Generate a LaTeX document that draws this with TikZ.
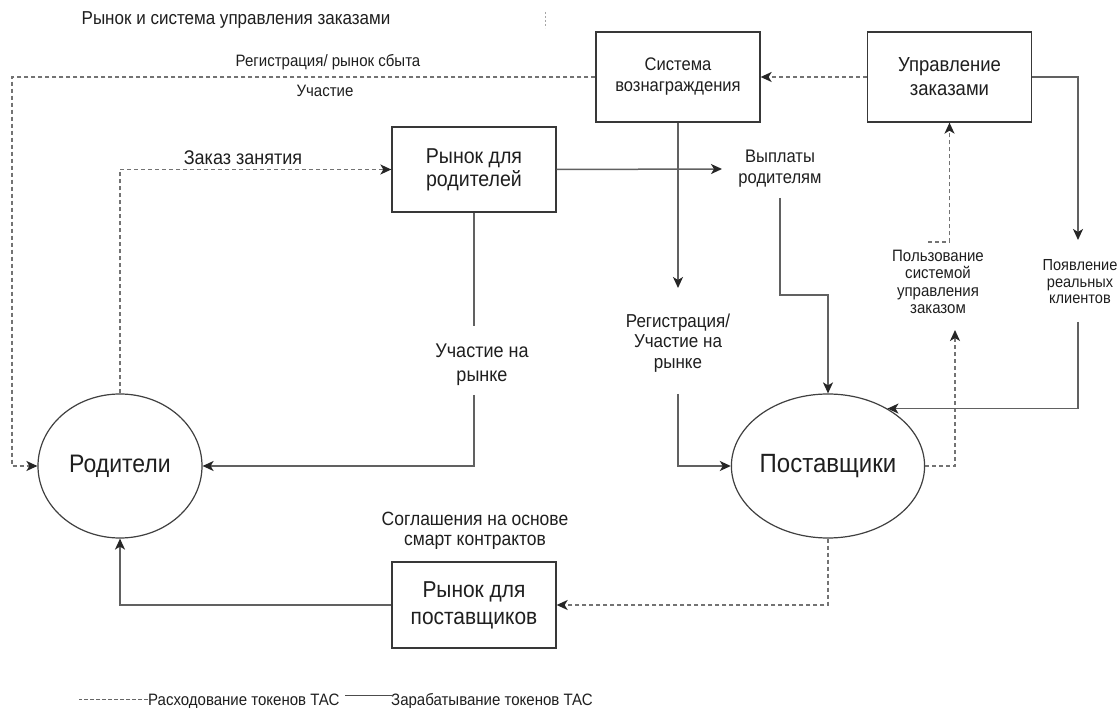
\documentclass[tikz,border=0pt]{standalone}
\usepackage{fontspec}
\setmainfont{Liberation Sans}[FakeStretch=0.91]
\usetikzlibrary{shapes.geometric,arrows.meta,calc}
\newcommand\myfs[2]{\fontsize{#1}{#2}\selectfont}
\begin{document}
\begin{tikzpicture}[x=1pt,y=-1pt,
  every node/.style={text=black!88, align=center, inner sep=0pt},
  box/.style={draw=black!78, line width=1.3pt, minimum width=164pt, minimum height=86pt},
  oval/.style={ellipse, draw=black!75, line width=1.2pt, minimum width=164pt, minimum height=144pt},
  sline/.style={draw=black!62, line width=1.5pt},
  dline/.style={draw=black!55, line width=1.5pt, dash pattern=on 4pt off 3pt},
  arr/.style={-{Stealth[length=11pt,width=10pt,inset=3pt,black!85]}}
]
\fill[white] (0,0) rectangle (1120,708);
\useasboundingbox (0,0) rectangle (1120,708);

% title and mark
\node[font=\myfs{18.7}{22}] (title) at (236,20) {Рынок и система управления заказами};
\draw[black!35, line width=0.6pt, dash pattern=on 2pt off 2pt] (545,12) -- (545,28);

% boxes
\node[box, minimum height=90pt, font=\myfs{18.2}{21}] (sys) at (678,77) {Система\\вознаграждения};
\node[box, minimum height=90pt, font=\myfs{20.3}{24}] (upr) at (949.5,77) {Управление\\заказами};
\node[box, minimum height=85pt, font=\myfs{21.5}{23}] (rpar) at (474,169.5) {Рынок для\\родителей};
\node[box, minimum height=86pt, font=\myfs{23}{27}] (rpst) at (474,605) {Рынок для\\поставщиков};

% ovals
\node[oval, font=\myfs{25.3}{28}] (par) at (120,466) {Родители};
\node[oval, font=\myfs{26.4}{29}] (pst) at (828,466) {Поставщики};

% labels
\node[font=\myfs{16.5}{18}] (lreg1) at (328,62) {Регистрация/ рынок сбыта};
\node[font=\myfs{16.5}{18}] (lpart) at (325,91) {Участие};
\node[font=\myfs{19.8}{21}] (lorder) at (243,158) {Заказ занятия};
\node[font=\myfs{18.2}{21}] (lpay) at (780,168.5) {Выплаты\\родителям};
\node[font=\myfs{16.5}{17.5}] (luse) at (938,282) {Пользование\\системой\\управления\\заказом};
\node[font=\myfs{16}{16.5}] (lnew) at (1080,282) {Появление\\реальных\\клиентов};
\node[font=\myfs{19.8}{24}] (lmk) at (482,365) {Участие на\\рынке};
\node[font=\myfs{18.7}{20.5}] (lreg2) at (678,343) {Регистрация/\\Участие на\\рынке};
\node[font=\myfs{19.2}{20.5}] (lsmart) at (475,531) {Соглашения на основе\\смарт контрактов};

% helper coordinates at label gaps
\coordinate (lft) at (12,466);
\coordinate (mk1) at (474,326);
\coordinate (mk2) at (474,395);
\coordinate (rg1) at (678,288);
\coordinate (rg2) at (678,394);
\coordinate (py1) at (722,169);
\coordinate (py2) at (780,198);
\coordinate (py3) at (828,295);
\coordinate (nw1) at (1078,240);
\coordinate (nw2) at (1078,322);
\coordinate (us1) at (955,330);
\coordinate (us2) at (928,242);

% dashed connectors
\draw[dline, arr] (sys.west) -| (lft) -- (par.west);
\draw[dline, arr] (par.north) |- (rpar.west);
\draw[dline, arr] (upr.west) -- (sys.east);
\draw[dline, arr] (pst.east) -| (us1);
\draw[dline, arr] (us2) -| (upr.south);
\draw[dline, arr] (pst.south) |- (rpst.east);

% solid connectors
\draw[sline, arr] (rpar.east) -- (py1);
\draw[sline, arr] (py2) |- (py3) -- (pst.north);
\draw[sline, arr] (sys.south) -- (rg1);
\draw[sline, arr] (rg2) |- (pst.west);
\draw[sline] (rpar.south) -- (mk1);
\draw[sline, arr] (mk2) |- (par.east);
\draw[sline, arr] (upr.east) -| (nw1);
\draw[sline, arr] (nw2) |- (pst.44);
\draw[sline, arr] (rpst.west) -| (par.south);

% legend
\node[anchor=west, font=\myfs{16.5}{18}] (leg1) at (148,701) {Расходование токенов ТАС};
\node[anchor=west, font=\myfs{16.5}{18}] (leg2) at (391,701) {Зарабатывание токенов ТАС};
\draw[black!60, line width=1pt, dash pattern=on 4pt off 2pt] (leg1.west) ++(0,-2) -- ++(-69,0);
\draw[black!70, line width=1pt] (leg2.west) ++(2,-6) -- ++(-48,0);
\end{tikzpicture}
\end{document}
